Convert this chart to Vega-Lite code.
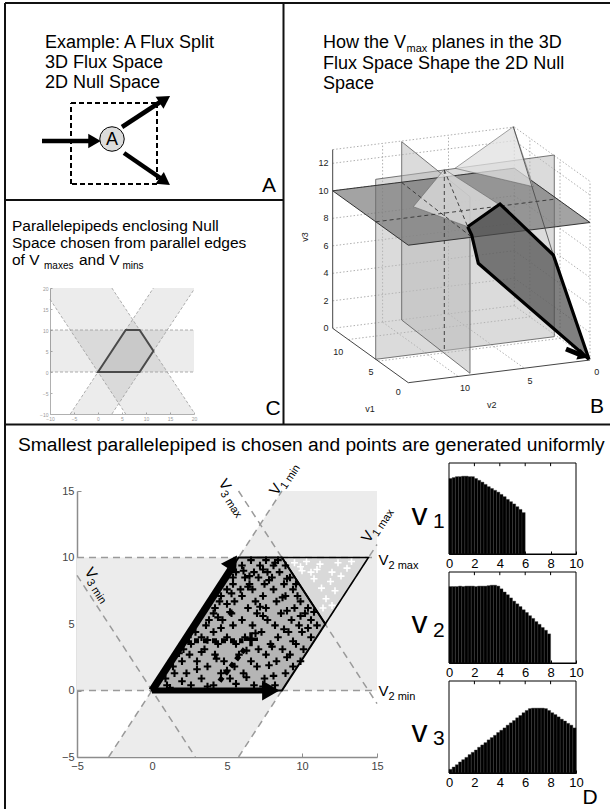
{
"$schema": "https://vega.github.io/schema/vega-lite/v6.json",
"width": 610, "height": 809,
"autosize": {"type": "none"},
"padding": 0,
"background": "white",
"config": {"view": {"stroke": null}, "text": {"font": "Liberation Sans"}, "axis": {"labelFont": "Liberation Sans", "labelFlush": false, "labelOverlap": false, "grid": false, "zindex": 1}},
"resolve": {"scale": {"x": "independent", "y": "independent"}},
"datasets": {
"pframe": [{"x":0,"y":0,"x2":605,"y2":0},{"x":0,"y":0,"x2":0,"y2":806},{"x":278.5,"y":0,"x2":278.5,"y2":421.5},{"x":0,"y":197,"x2":278.5,"y2":197},{"x":0,"y":421.5,"x2":605,"y2":421.5}],
"pt18": [{"x":40,"y":45,"t":"Example: A Flux Split"},{"x":40,"y":65,"t":"3D Flux Space"},{"x":40,"y":85,"t":"2D Null Space"},{"x":318,"y":45,"t":"How the V"},{"x":426.7,"y":45,"t":"planes in the 3D"},{"x":318,"y":66,"t":"Flux Space Shape the 2D Null"},{"x":318,"y":86,"t":"Space"}],
"pt11sub": [{"x":401.5,"y":49,"t":"max"}],
"pt16": [{"x":7,"y":227.5,"t":"Parallelepipeds enclosing Null"},{"x":7,"y":244.5,"t":"Space chosen from parallel edges"},{"x":7,"y":261.5,"t":"of V"},{"x":74,"y":261.5,"t":"and V"}],
"pt10sub": [{"x":39,"y":265.5,"t":"maxes"},{"x":117.5,"y":265.5,"t":"mins"}],
"pt19": [{"x":13,"y":448,"t":"Smallest parallelepiped is chosen and points are generated uniformly"}],
"pletters": [{"x":264,"y":189,"t":"A"},{"x":592,"y":410,"t":"B"},{"x":268,"y":412,"t":"C"},{"x":585,"y":801,"t":"D"}],
"phv": [{"x":406.5,"y":522,"t":"v"},{"x":406.5,"y":630,"t":"v"},{"x":406.5,"y":739,"t":"v"}],
"phsub": [{"x":428,"y":525,"t":"1"},{"x":428,"y":634,"t":"2"},{"x":428,"y":742,"t":"3"}],
"adash": [{"x":66,"y":100,"x2":152,"y2":100},{"x":152,"y":100,"x2":152,"y2":181},{"x":152,"y":181,"x2":66,"y2":181},{"x":66,"y":181,"x2":66,"y2":100}],
"ashaft": [{"x":37,"y":138,"x2":90,"y2":138},{"x":117,"y":124,"x2":159,"y2":96.5},{"x":119,"y":150,"x2":159,"y2":177.5}],
"ahead0": [{"x":89.5,"y":138}],
"ahead1": [{"x":159.8,"y":96.3}],
"ahead2": [{"x":159.8,"y":178.5}],
"acirc": [{"x":107,"y":136}],
"acirctext": [{"x":107,"y":142,"t":"A"}],
"bgrid": [
{"x":47.7,"y":328.3,"x2":229.3,"y2":305.7},{"x":229.3,"y":305.7,"x2":305,"y2":360},
{"x":47.7,"y":300.8,"x2":229.3,"y2":278.2},{"x":229.3,"y":278.2,"x2":305,"y2":332.5},
{"x":47.7,"y":273.3,"x2":229.3,"y2":250.7},{"x":229.3,"y":250.7,"x2":305,"y2":305},
{"x":47.7,"y":245.8,"x2":229.3,"y2":223.2},{"x":229.3,"y":223.2,"x2":305,"y2":277.5},
{"x":47.7,"y":218.3,"x2":229.3,"y2":195.7},{"x":229.3,"y":195.7,"x2":305,"y2":250},
{"x":47.7,"y":190.8,"x2":229.3,"y2":168.2},{"x":229.3,"y":168.2,"x2":305,"y2":222.5},
{"x":47.7,"y":163.3,"x2":229.3,"y2":140.7},{"x":229.3,"y":140.7,"x2":305,"y2":195},
{"x":47.7,"y":149.6,"x2":229.3,"y2":127},{"x":229.3,"y":127,"x2":305,"y2":181.3},
{"x":229.3,"y":305.7,"x2":229.3,"y2":127},{"x":305,"y":360,"x2":305,"y2":181.3},
{"x":97.6,"y":322.1,"x2":97.6,"y2":143.4},{"x":163.5,"y":313.9,"x2":163.5,"y2":135.2},
{"x":244.9,"y":316.9,"x2":244.9,"y2":138.2},{"x":275,"y":338.4,"x2":275,"y2":159.7},
{"x":97.6,"y":322.1,"x2":173.3,"y2":376.5},{"x":163.5,"y":313.9,"x2":239.2,"y2":368.2},
{"x":63.3,"y":339.5,"x2":244.9,"y2":316.9},{"x":93.3,"y":361.1,"x2":275,"y2":338.4}],
"baxes": [{"x":47.7,"y":328.3,"x2":47.7,"y2":149.6},{"x":47.7,"y":328.3,"x2":123.3,"y2":382.7},{"x":123.3,"y":382.7,"x2":305,"y2":360}],
"bv3lab": [{"x":43.5,"y":163.3,"t":"12"},{"x":43.5,"y":190.8,"t":"10"},{"x":43.5,"y":218.3,"t":"8"},{"x":43.5,"y":245.8,"t":"6"},{"x":43.5,"y":273.3,"t":"4"},{"x":43.5,"y":300.8,"t":"2"},{"x":43.5,"y":328.3,"t":"0"}],
"bv12lab": [{"x":53.3,"y":352,"t":"10"},{"x":86,"y":372,"t":"5"},{"x":113.3,"y":392,"t":"0"},{"x":180,"y":388.3,"t":"10"},{"x":245,"y":381,"t":"5"},{"x":311.7,"y":371.7,"t":"0"},{"x":85,"y":409,"t":"v1"},{"x":206.7,"y":405,"t":"v2"}],
"bv3title": [{"x":20,"y":237,"t":"v3"}],
"bpl_light": [
{"g":"p2","o":1,"x":90.7,"y":179.3},{"g":"p2","o":2,"x":269.3,"y":155},{"g":"p2","o":3,"x":269.3,"y":336.7},{"g":"p2","o":4,"x":90.7,"y":359.3},
{"g":"p3","o":1,"x":116.7,"y":141.7},{"g":"p3","o":2,"x":185,"y":196.7},{"g":"p3","o":3,"x":185,"y":373.3},{"g":"p3","o":4,"x":116.7,"y":320}],
"bpl_dark1": [{"g":"p1","o":1,"x":47.7,"y":190.8},{"g":"p1","o":2,"x":123.3,"y":245.2},{"g":"p1","o":3,"x":305,"y":222.5},{"g":"p1","o":4,"x":229.3,"y":168.2}],
"bpl_light2": [
{"g":"p6","o":1,"x":128.3,"y":206.7},{"g":"p6","o":2,"x":159.3,"y":169.3},{"g":"p6","o":3,"x":213.3,"y":204},{"g":"p6","o":4,"x":182.7,"y":226.7},
{"g":"p4","o":1,"x":170,"y":168.3},{"g":"p4","o":2,"x":228.3,"y":126.7},{"g":"p4","o":3,"x":248.3,"y":186.7}],
"bpl_dark2": [{"g":"p5","o":1,"x":182.7,"y":226.7},{"g":"p5","o":2,"x":215,"y":204},{"g":"p5","o":3,"x":268.3,"y":255},{"g":"p5","o":4,"x":304,"y":359.3},{"g":"p5","o":5,"x":193.3,"y":263.3}],
"bdash": [{"x":159.3,"y":170,"x2":159.3,"y2":350},{"x":90.7,"y":221.8,"x2":269.3,"y2":199.2},{"x":116.7,"y":182.5,"x2":185,"y2":235.8},{"x":159.3,"y":170,"x2":182.7,"y2":226.7}],
"bthin": [{"x":228.3,"y":126.7,"x2":268.3,"y2":255}],
"bthick": [
{"g":"a","o":1,"x":182.7,"y":226.7},{"g":"a","o":2,"x":215,"y":204},{"g":"a","o":3,"x":268.3,"y":255},{"g":"a","o":4,"x":304,"y":359.3},
{"g":"b","o":1,"x":182.7,"y":226.7},{"g":"b","o":2,"x":186.7,"y":235},{"g":"b","o":3,"x":193.3,"y":263.3},{"g":"b","o":4,"x":304,"y":359.3}],
"barrow": [{"x":281,"y":349,"x2":297,"y2":355.5}],
"bhead": [{"x":298,"y":356}],
"cbands": [
{"g":"v2","o":1,"x":-10,"y":0},{"g":"v2","o":2,"x":20,"y":0},{"g":"v2","o":3,"x":20,"y":10},{"g":"v2","o":4,"x":-10,"y":10},
{"g":"v1","o":1,"x":-5.77,"y":-10},{"g":"v1","o":2,"x":2.89,"y":-10},{"g":"v1","o":3,"x":20,"y":19.64},{"g":"v1","o":4,"x":20,"y":20},{"g":"v1","o":5,"x":11.55,"y":20},
{"g":"v3","o":1,"x":-10,"y":17.32},{"g":"v3","o":2,"x":-10,"y":20},{"g":"v3","o":3,"x":2.89,"y":20},{"g":"v3","o":4,"x":20,"y":-9.65},{"g":"v3","o":5,"x":20,"y":-10},{"g":"v3","o":6,"x":5.77,"y":-10}],
"cpent": [{"o":1,"x":0,"y":0},{"o":2,"x":5.77,"y":10},{"o":3,"x":8.66,"y":10},{"o":4,"x":11.55,"y":5},{"o":5,"x":8.66,"y":0}],
"cdash": [{"x":-10,"y":0,"x2":20,"y2":0},{"x":-10,"y":10,"x2":20,"y2":10},{"x":-5.77,"y":-10,"x2":11.55,"y2":20},{"x":2.89,"y":-10,"x2":20,"y2":19.64},{"x":-10,"y":17.32,"x2":5.77,"y2":-10},{"x":2.89,"y":20,"x2":20,"y2":-9.65}],
"dgray": [{"o":1,"x":-5,"y":0},{"o":2,"x":-5,"y":10},{"o":3,"x":5.77,"y":10},{"o":4,"x":8.66,"y":15},{"o":5,"x":15,"y":15},{"o":6,"x":15,"y":0},{"o":7,"x":8.66,"y":0},{"o":8,"x":5.77,"y":-5},{"o":9,"x":-2.89,"y":-5},{"o":10,"x":0,"y":0}],
"dpent": [{"o":1,"x":0,"y":0},{"o":2,"x":5.77,"y":10},{"o":3,"x":8.66,"y":10},{"o":4,"x":11.55,"y":5},{"o":5,"x":8.66,"y":0}],
"dtri": [{"o":1,"x":8.66,"y":10},{"o":2,"x":14.43,"y":10},{"o":3,"x":11.55,"y":5}],
"ddash": [{"x":-5,"y":10,"x2":15,"y2":10},{"x":-5,"y":0,"x2":15,"y2":0},{"x":-2.89,"y":-5,"x2":8.66,"y2":15},{"x":5.77,"y":-5,"x2":15,"y2":10.98},{"x":-5,"y":8.66,"x2":2.89,"y2":-5},{"x":5.77,"y":15,"x2":15,"y2":-0.99}],
"dpts": [
{"x":1.0,"y":0.4},{"x":2.6,"y":0.4},{"x":4.1,"y":0.4},{"x":6.8,"y":0.4},{"x":8.2,"y":0.4},
{"x":0.9,"y":0.9},{"x":3.3,"y":0.9},{"x":5.2,"y":0.9},{"x":7.5,"y":0.9},
{"x":1.5,"y":1.3},{"x":2.3,"y":1.3},{"x":4.6,"y":1.3},{"x":6.1,"y":1.3},{"x":8.9,"y":1.3},
{"x":1.4,"y":1.8},{"x":3.7,"y":1.8},{"x":5.5,"y":1.8},{"x":7.0,"y":1.8},{"x":9.4,"y":1.8},
{"x":2.0,"y":2.2},{"x":3.0,"y":2.2},{"x":4.8,"y":2.2},{"x":6.6,"y":2.2},{"x":8.3,"y":2.2},{"x":9.9,"y":2.2},
{"x":2.5,"y":2.7},{"x":4.2,"y":2.7},{"x":5.8,"y":2.7},{"x":7.6,"y":2.7},{"x":9.2,"y":2.7},
{"x":2.1,"y":3.1},{"x":3.5,"y":3.1},{"x":7.1,"y":3.1},{"x":8.7,"y":3.1},{"x":10.1,"y":3.1},
{"x":2.6,"y":3.5},{"x":4.4,"y":3.5},{"x":5.6,"y":3.5},{"x":7.9,"y":3.5},{"x":9.6,"y":3.5},
{"x":3.3,"y":4.0},{"x":5.0,"y":4.0},{"x":6.2,"y":4.0},{"x":8.4,"y":4.0},{"x":10.6,"y":4.0},
{"x":2.9,"y":4.4},{"x":4.1,"y":4.4},{"x":7.3,"y":4.4},{"x":9.1,"y":4.4},{"x":10.0,"y":4.4},
{"x":3.6,"y":4.9},{"x":5.4,"y":4.9},{"x":6.7,"y":4.9},{"x":8.2,"y":4.9},{"x":9.8,"y":4.9},{"x":11.0,"y":4.9},
{"x":3.8,"y":5.3},{"x":4.7,"y":5.3},{"x":6.0,"y":5.3},{"x":7.7,"y":5.3},{"x":9.3,"y":5.3},{"x":10.6,"y":5.3},
{"x":4.1,"y":5.8},{"x":5.3,"y":5.8},{"x":7.0,"y":5.8},{"x":8.6,"y":5.8},{"x":10.2,"y":5.8},
{"x":4.2,"y":6.2},{"x":6.4,"y":6.2},{"x":7.6,"y":6.2},{"x":9.5,"y":6.2},{"x":10.4,"y":6.2},
{"x":4.5,"y":6.7},{"x":5.5,"y":6.7},{"x":6.9,"y":6.7},{"x":8.3,"y":6.7},{"x":9.9,"y":6.7},
{"x":4.6,"y":7.1},{"x":6.0,"y":7.1},{"x":7.4,"y":7.1},{"x":8.9,"y":7.1},{"x":9.7,"y":7.1},
{"x":5.0,"y":7.6},{"x":5.9,"y":7.6},{"x":6.7,"y":7.6},{"x":8.1,"y":7.6},{"x":9.4,"y":7.6},
{"x":5.4,"y":8.0},{"x":6.5,"y":8.0},{"x":7.5,"y":8.0},{"x":8.8,"y":8.0},{"x":9.6,"y":8.0},
{"x":5.4,"y":8.5},{"x":6.2,"y":8.5},{"x":7.1,"y":8.5},{"x":8.0,"y":8.5},{"x":9.2,"y":8.5},
{"x":5.6,"y":8.9},{"x":6.8,"y":8.9},{"x":7.7,"y":8.9},{"x":8.5,"y":8.9},
{"x":6.0,"y":9.4},{"x":7.2,"y":9.4},{"x":8.1,"y":9.4},{"x":8.9,"y":9.4},
{"x":6.6,"y":9.8},{"x":7.6,"y":9.8},{"x":8.4,"y":9.8},
{"x":1.2,"y":0.2},{"x":3.7,"y":0.3},{"x":5.6,"y":0.5},{"x":7.4,"y":0.3},{"x":2.0,"y":0.7},{"x":6.3,"y":1.0},{"x":8.1,"y":1.1},{"x":3.0,"y":1.6},{"x":5.0,"y":1.5},{"x":7.8,"y":1.9},
{"x":4.3,"y":2.4},{"x":9.0,"y":2.5},{"x":3.3,"y":2.9},{"x":6.3,"y":3.0},{"x":8.0,"y":3.3},{"x":9.4,"y":3.7},{"x":3.7,"y":3.8},{"x":6.9,"y":4.3},{"x":8.8,"y":4.6},{"x":4.6,"y":4.7},
{"x":10.4,"y":4.7},{"x":5.2,"y":5.9},{"x":7.4,"y":5.6},{"x":9.0,"y":6.0},{"x":5.0,"y":6.5},{"x":7.2,"y":6.3},{"x":8.7,"y":7.0},{"x":5.3,"y":7.3},{"x":6.4,"y":7.8},{"x":7.8,"y":8.3},
{"x":6.1,"y":9.0},{"x":7.4,"y":9.1},{"x":8.2,"y":9.6},{"x":6.5,"y":8.6},{"x":9.0,"y":8.4},{"x":9.9,"y":5.6},{"x":10.8,"y":5.9},{"x":4.4,"y":5.5},{"x":2.4,"y":4.0},{"x":1.8,"y":2.8}],
"dwpts": [{"x":9.5,"y":9.6},{"x":10.3,"y":9.7},{"x":11.2,"y":9.5},{"x":12.4,"y":9.6},{"x":13.3,"y":9.7},{"x":10.0,"y":9.0},{"x":11.0,"y":9.1},{"x":12.0,"y":8.9},{"x":13.0,"y":9.2},{"x":10.8,"y":8.4},{"x":11.9,"y":8.2},{"x":12.6,"y":8.6},{"x":11.3,"y":7.7},{"x":12.2,"y":7.5},{"x":11.6,"y":6.9},{"x":12.0,"y":6.4},{"x":11.4,"y":6.2},{"x":10.6,"y":8.9},{"x":9.9,"y":9.3}],
"dshaft1": [{"x":0,"y":0,"x2":5.25,"y2":9.1}],
"dshaft2": [{"x":0,"y":0,"x2":7.6,"y2":0}],
"dhead1": [{"x":5.38,"y":9.66}],
"dhead2": [{"x":7.92,"y":0}],
"ddots": [{"x":2.2,"y":3.75,"x2":6.1,"y2":3.75},{"x":4.5,"y":0.7,"x2":6.3,"y2":3.3}],
"dcross": [{"x":6.6,"y":3.85}],
"dlab57": [{"x":-4.53,"y":8.95,"m":"V","s":"3 min"},{"x":4.4,"y":15.6,"m":"V","s":"3 max"}],
"dlabm57": [{"x":8.33,"y":14.6,"m":"V","s":"1 min"},{"x":14.47,"y":11.05,"m":"V","s":"1 max"}],
"dlab0": [{"x":15.1,"y":9.4,"m":"V","s":"2 max"},{"x":15.1,"y":-0.4,"m":"V","s":"2 min"}],
"hframe": [{"x":0,"x2":10,"y":0,"y2":1}],
"htick": [{"x":2,"y":1,"y2":0.965},{"x":4,"y":1,"y2":0.965},{"x":6,"y":1,"y2":0.965},{"x":8,"y":1,"y2":0.965}],
"h1": [{"x":0,"x2":0.25,"y":0.83},{"x":0.25,"x2":0.5,"y":0.84},{"x":0.5,"x2":0.75,"y":0.85},{"x":0.75,"x2":1,"y":0.85},{"x":1,"x2":1.25,"y":0.855},{"x":1.25,"x2":1.5,"y":0.855},{"x":1.5,"x2":1.75,"y":0.85},{"x":1.75,"x2":2,"y":0.85},{"x":2,"x2":2.25,"y":0.83},{"x":2.25,"x2":2.5,"y":0.81},{"x":2.5,"x2":2.75,"y":0.79},{"x":2.75,"x2":3,"y":0.765},{"x":3,"x2":3.25,"y":0.74},{"x":3.25,"x2":3.5,"y":0.72},{"x":3.5,"x2":3.75,"y":0.7},{"x":3.75,"x2":4,"y":0.68},{"x":4,"x2":4.25,"y":0.655},{"x":4.25,"x2":4.5,"y":0.63},{"x":4.5,"x2":4.75,"y":0.6},{"x":4.75,"x2":5,"y":0.575},{"x":5,"x2":5.25,"y":0.55},{"x":5.25,"x2":5.5,"y":0.52},{"x":5.5,"x2":5.75,"y":0.49},{"x":5.75,"x2":6,"y":0.455}],
"h2": [{"x":0,"x2":0.25,"y":0.84},{"x":0.25,"x2":0.5,"y":0.84},{"x":0.5,"x2":0.75,"y":0.84},{"x":0.75,"x2":1,"y":0.845},{"x":1,"x2":1.25,"y":0.84},{"x":1.25,"x2":1.5,"y":0.845},{"x":1.5,"x2":1.75,"y":0.845},{"x":1.75,"x2":2,"y":0.845},{"x":2,"x2":2.25,"y":0.84},{"x":2.25,"x2":2.5,"y":0.845},{"x":2.5,"x2":2.75,"y":0.845},{"x":2.75,"x2":3,"y":0.845},{"x":3,"x2":3.25,"y":0.85},{"x":3.25,"x2":3.5,"y":0.855},{"x":3.5,"x2":3.75,"y":0.855},{"x":3.75,"x2":4,"y":0.845},{"x":4,"x2":4.25,"y":0.815},{"x":4.25,"x2":4.5,"y":0.78},{"x":4.5,"x2":4.75,"y":0.75},{"x":4.75,"x2":5,"y":0.715},{"x":5,"x2":5.25,"y":0.68},{"x":5.25,"x2":5.5,"y":0.65},{"x":5.5,"x2":5.75,"y":0.62},{"x":5.75,"x2":6,"y":0.585},{"x":6,"x2":6.25,"y":0.555},{"x":6.25,"x2":6.5,"y":0.52},{"x":6.5,"x2":6.75,"y":0.49},{"x":6.75,"x2":7,"y":0.455},{"x":7,"x2":7.25,"y":0.425},{"x":7.25,"x2":7.5,"y":0.39},{"x":7.5,"x2":7.75,"y":0.36},{"x":7.75,"x2":8,"y":0.32}],
"h3": [{"x":0,"x2":0.25,"y":0.04},{"x":0.25,"x2":0.5,"y":0.065},{"x":0.5,"x2":0.75,"y":0.09},{"x":0.75,"x2":1,"y":0.12},{"x":1,"x2":1.25,"y":0.145},{"x":1.25,"x2":1.5,"y":0.17},{"x":1.5,"x2":1.75,"y":0.2},{"x":1.75,"x2":2,"y":0.225},{"x":2,"x2":2.25,"y":0.25},{"x":2.25,"x2":2.5,"y":0.28},{"x":2.5,"x2":2.75,"y":0.305},{"x":2.75,"x2":3,"y":0.33},{"x":3,"x2":3.25,"y":0.36},{"x":3.25,"x2":3.5,"y":0.385},{"x":3.5,"x2":3.75,"y":0.41},{"x":3.75,"x2":4,"y":0.44},{"x":4,"x2":4.25,"y":0.465},{"x":4.25,"x2":4.5,"y":0.49},{"x":4.5,"x2":4.75,"y":0.52},{"x":4.75,"x2":5,"y":0.545},{"x":5,"x2":5.25,"y":0.57},{"x":5.25,"x2":5.5,"y":0.6},{"x":5.5,"x2":5.75,"y":0.625},{"x":5.75,"x2":6,"y":0.655},{"x":6,"x2":6.25,"y":0.68},{"x":6.25,"x2":6.5,"y":0.7},{"x":6.5,"x2":6.75,"y":0.705},{"x":6.75,"x2":7,"y":0.705},{"x":7,"x2":7.25,"y":0.705},{"x":7.25,"x2":7.5,"y":0.705},{"x":7.5,"x2":7.75,"y":0.7},{"x":7.75,"x2":8,"y":0.68},{"x":8,"x2":8.25,"y":0.655},{"x":8.25,"x2":8.5,"y":0.635},{"x":8.5,"x2":8.75,"y":0.61},{"x":8.75,"x2":9,"y":0.585},{"x":9,"x2":9.25,"y":0.565},{"x":9.25,"x2":9.5,"y":0.54},{"x":9.5,"x2":9.75,"y":0.52},{"x":9.75,"x2":10,"y":0.49}]
},
"layer": [
{
"encoding": {
"x": {"field":"x","type":"quantitative","scale":{"domain":[0,605],"range":[5,610],"nice":false,"zero":false},"axis":null},
"y": {"field":"y","type":"quantitative","scale":{"domain":[0,806],"range":[3,809],"nice":false,"zero":false},"axis":null}
},
"layer": [
{"data":{"name":"pframe"},"mark":{"type":"rule","stroke":"#111111","strokeWidth":2},"encoding":{"x2":{"field":"x2"},"y2":{"field":"y2"}}},
{"data":{"name":"pt18"},"mark":{"type":"text","fontSize":18,"align":"left","baseline":"alphabetic","color":"black"},"encoding":{"text":{"field":"t"}}},
{"data":{"name":"pt11sub"},"mark":{"type":"text","fontSize":11,"align":"left","baseline":"alphabetic","color":"black"},"encoding":{"text":{"field":"t"}}},
{"data":{"name":"pt16"},"mark":{"type":"text","fontSize":15.5,"align":"left","baseline":"alphabetic","color":"black"},"encoding":{"text":{"field":"t"}}},
{"data":{"name":"pt10sub"},"mark":{"type":"text","fontSize":10,"align":"left","baseline":"alphabetic","color":"black"},"encoding":{"text":{"field":"t"}}},
{"data":{"name":"pt19"},"mark":{"type":"text","fontSize":19.2,"align":"left","baseline":"alphabetic","color":"black"},"encoding":{"text":{"field":"t"}}},
{"data":{"name":"pletters"},"mark":{"type":"text","fontSize":21,"align":"center","baseline":"alphabetic","color":"black"},"encoding":{"text":{"field":"t"}}},
{"data":{"name":"phv"},"mark":{"type":"text","fontSize":32,"align":"left","baseline":"alphabetic","color":"black"},"encoding":{"text":{"field":"t"}}},
{"data":{"name":"phsub"},"mark":{"type":"text","fontSize":21,"align":"left","baseline":"alphabetic","color":"black"},"encoding":{"text":{"field":"t"}}},
{"data":{"name":"adash"},"mark":{"type":"rule","stroke":"black","strokeWidth":2,"strokeDash":[5,3]},"encoding":{"x2":{"field":"x2"},"y2":{"field":"y2"}}},
{"data":{"name":"ashaft"},"mark":{"type":"rule","stroke":"black","strokeWidth":4.5},"encoding":{"x2":{"field":"x2"},"y2":{"field":"y2"}}},
{"data":{"name":"ahead0"},"mark":{"type":"point","shape":"triangle-right","size":210,"filled":true,"color":"black","opacity":1,"angle":0}},
{"data":{"name":"ahead1"},"mark":{"type":"point","shape":"triangle-right","size":210,"filled":true,"color":"black","opacity":1,"angle":327}},
{"data":{"name":"ahead2"},"mark":{"type":"point","shape":"triangle-right","size":210,"filled":true,"color":"black","opacity":1,"angle":35}},
{"data":{"name":"acirc"},"mark":{"type":"point","shape":"circle","size":600,"filled":true,"fill":"#dcdcdc","stroke":"black","strokeWidth":1,"opacity":1}},
{"data":{"name":"acirctext"},"mark":{"type":"text","fontSize":18,"align":"center","baseline":"alphabetic","color":"black"},"encoding":{"text":{"field":"t"}}}
]
},
{
"encoding": {
"x": {"field":"x","type":"quantitative","scale":{"domain":[0,325],"range":[285,610],"nice":false,"zero":false},"axis":null},
"y": {"field":"y","type":"quantitative","scale":{"domain":[0,430],"range":[0,430],"nice":false,"zero":false},"axis":null}
},
"layer": [
{"data":{"name":"bgrid"},"mark":{"type":"rule","stroke":"#9a9a9a","strokeWidth":0.8,"strokeDash":[1.5,2]},"encoding":{"x2":{"field":"x2"},"y2":{"field":"y2"}}},
{"data":{"name":"bpl_light"},"mark":{"type":"line","fill":"#b8b8b8","fillOpacity":0.5,"stroke":"#555555","strokeWidth":0.8,"interpolate":"linear-closed"},"encoding":{"detail":{"field":"g"},"order":{"field":"o","type":"quantitative"}}},
{"data":{"name":"bpl_dark1"},"mark":{"type":"line","fill":"#6a6a6a","fillOpacity":0.62,"stroke":"#333333","strokeWidth":1,"interpolate":"linear-closed"},"encoding":{"detail":{"field":"g"},"order":{"field":"o","type":"quantitative"}}},
{"data":{"name":"bpl_light2"},"mark":{"type":"line","fill":"#e0e0e0","fillOpacity":0.75,"stroke":"#666666","strokeWidth":0.6,"interpolate":"linear-closed"},"encoding":{"detail":{"field":"g"},"order":{"field":"o","type":"quantitative"}}},
{"data":{"name":"bpl_dark2"},"mark":{"type":"line","fill":"#4a4a4a","fillOpacity":0.7,"strokeOpacity":0,"interpolate":"linear-closed"},"encoding":{"detail":{"field":"g"},"order":{"field":"o","type":"quantitative"}}},
{"data":{"name":"bdash"},"mark":{"type":"rule","stroke":"#333333","strokeWidth":0.9,"strokeDash":[4,3]},"encoding":{"x2":{"field":"x2"},"y2":{"field":"y2"}}},
{"data":{"name":"bthin"},"mark":{"type":"rule","stroke":"#444444","strokeWidth":0.8},"encoding":{"x2":{"field":"x2"},"y2":{"field":"y2"}}},
{"data":{"name":"baxes"},"mark":{"type":"rule","stroke":"#444444","strokeWidth":1},"encoding":{"x2":{"field":"x2"},"y2":{"field":"y2"}}},
{"data":{"name":"bthick"},"mark":{"type":"line","stroke":"black","strokeWidth":3.2},"encoding":{"detail":{"field":"g"},"order":{"field":"o","type":"quantitative"}}},
{"data":{"name":"barrow"},"mark":{"type":"rule","stroke":"black","strokeWidth":5},"encoding":{"x2":{"field":"x2"},"y2":{"field":"y2"}}},
{"data":{"name":"bhead"},"mark":{"type":"point","shape":"triangle-right","size":130,"filled":true,"color":"black","opacity":1,"angle":22}},
{"data":{"name":"bv3lab"},"mark":{"type":"text","fontSize":9,"align":"right","baseline":"middle","color":"#222222"},"encoding":{"text":{"field":"t"}}},
{"data":{"name":"bv12lab"},"mark":{"type":"text","fontSize":9,"align":"center","baseline":"middle","color":"#222222"},"encoding":{"text":{"field":"t"}}},
{"data":{"name":"bv3title"},"mark":{"type":"text","fontSize":9,"align":"center","baseline":"middle","color":"#222222","angle":270},"encoding":{"text":{"field":"t"}}}
]
},
{
"encoding": {
"x": {"field":"x","type":"quantitative","scale":{"domain":[-10,20],"range":[50,194],"nice":false,"zero":false},"axis":{"orient":"bottom","offset":-395,"values":[-10,-5,0,5,10,15,20],"domainColor":"#b0b0b0","tickColor":"#b0b0b0","tickSize":-2,"labelPadding":4,"labelFontSize":5,"labelColor":"#999999","title":null,"labelFlush":false}},
"y": {"field":"y","type":"quantitative","scale":{"domain":[-10,20],"range":[414,288],"nice":false,"zero":false},"axis":{"orient":"left","offset":-50,"values":[-10,-5,0,5,10,15,20],"domainColor":"#b0b0b0","tickColor":"#b0b0b0","tickSize":-2,"labelPadding":4,"labelFontSize":5,"labelColor":"#999999","title":null}}
},
"layer": [
{"data":{"name":"cbands"},"mark":{"type":"line","fill":"black","fillOpacity":0.075,"strokeOpacity":0,"interpolate":"linear-closed"},"encoding":{"detail":{"field":"g"},"order":{"field":"o","type":"quantitative"}}},
{"data":{"name":"cdash"},"mark":{"type":"rule","stroke":"#9a9a9a","strokeWidth":0.8,"strokeDash":[3,2]},"encoding":{"x2":{"field":"x2"},"y2":{"field":"y2"}}},
{"data":{"name":"cpent"},"mark":{"type":"line","stroke":"#4a4a4a","strokeWidth":2,"interpolate":"linear-closed"},"encoding":{"order":{"field":"o","type":"quantitative"}}}
]
},
{
"encoding": {
"x": {"field":"x","type":"quantitative","scale":{"domain":[-5,15],"range":[77,377],"nice":false,"zero":false},"axis":{"orient":"bottom","offset":-52,"values":[-5,0,5,10,15],"domainColor":"#8c8c8c","domainWidth":1.5,"tickColor":"#8c8c8c","tickSize":-4,"labelPadding":7,"labelFontSize":11,"labelColor":"#444444","title":null,"labelFlush":false}},
"y": {"field":"y","type":"quantitative","scale":{"domain":[-5,15],"range":[757,491],"nice":false,"zero":false},"axis":{"orient":"left","offset":-77,"values":[-5,0,5,10,15],"domainColor":"#8c8c8c","domainWidth":1.5,"tickColor":"#8c8c8c","tickSize":-4,"labelPadding":7,"labelFontSize":11,"labelColor":"#444444","title":null}}
},
"layer": [
{"data":{"name":"dgray"},"mark":{"type":"line","fill":"#ececec","strokeOpacity":0,"interpolate":"linear-closed"},"encoding":{"order":{"field":"o","type":"quantitative"}}},
{"data":{"name":"dpent"},"mark":{"type":"line","fill":"#b5b5b5","strokeOpacity":0,"interpolate":"linear-closed"},"encoding":{"order":{"field":"o","type":"quantitative"}}},
{"data":{"name":"dtri"},"mark":{"type":"line","fill":"#d9d9d9","strokeOpacity":0,"interpolate":"linear-closed"},"encoding":{"order":{"field":"o","type":"quantitative"}}},
{"data":{"name":"ddash"},"mark":{"type":"rule","stroke":"#9a9a9a","strokeWidth":1.5,"strokeDash":[7,5]},"encoding":{"x2":{"field":"x2"},"y2":{"field":"y2"}}},
{"data":{"name":"dpts"},"mark":{"type":"point","shape":"M-1,0L1,0M0,-1L0,1","size":56,"filled":false,"stroke":"black","strokeWidth":2.1,"opacity":1}},
{"data":{"name":"dwpts"},"mark":{"type":"point","shape":"M-1,0L1,0M0,-1L0,1","size":49,"filled":false,"stroke":"white","strokeWidth":1.6,"opacity":1}},
{"data":{"name":"dpent"},"mark":{"type":"line","stroke":"black","strokeWidth":2,"interpolate":"linear-closed"},"encoding":{"order":{"field":"o","type":"quantitative"}}},
{"data":{"name":"dtri"},"mark":{"type":"line","stroke":"black","strokeWidth":1.5,"interpolate":"linear-closed"},"encoding":{"order":{"field":"o","type":"quantitative"}}},
{"data":{"name":"dshaft1"},"mark":{"type":"rule","stroke":"black","strokeWidth":7.5},"encoding":{"x2":{"field":"x2"},"y2":{"field":"y2"}}},
{"data":{"name":"dshaft2"},"mark":{"type":"rule","stroke":"black","strokeWidth":6},"encoding":{"x2":{"field":"x2"},"y2":{"field":"y2"}}},
{"data":{"name":"dhead1"},"mark":{"type":"point","shape":"triangle-right","size":324,"filled":true,"color":"black","opacity":1,"angle":303}},
{"data":{"name":"dhead2"},"mark":{"type":"point","shape":"triangle-right","size":400,"filled":true,"color":"black","opacity":1,"angle":0}},
{"data":{"name":"ddots"},"mark":{"type":"rule","stroke":"black","strokeWidth":5,"strokeDash":[5,4],"strokeCap":"butt"},"encoding":{"x2":{"field":"x2"},"y2":{"field":"y2"}}},
{"data":{"name":"dcross"},"mark":{"type":"point","shape":"M-1,0L1,0M0,-1L0,1","size":196,"filled":false,"stroke":"black","strokeWidth":3.5,"opacity":1}},
{"data":{"name":"dlab57"},"mark":{"type":"text","angle":57,"fontSize":15,"align":"left","baseline":"alphabetic","color":"black"},"encoding":{"text":{"field":"m"}}},
{"data":{"name":"dlab57"},"mark":{"type":"text","angle":57,"fontSize":11,"align":"left","baseline":"alphabetic","color":"black","dx":10,"dy":4},"encoding":{"text":{"field":"s"}}},
{"data":{"name":"dlabm57"},"mark":{"type":"text","angle":303,"fontSize":15,"align":"left","baseline":"alphabetic","color":"black"},"encoding":{"text":{"field":"m"}}},
{"data":{"name":"dlabm57"},"mark":{"type":"text","angle":303,"fontSize":11,"align":"left","baseline":"alphabetic","color":"black","dx":10,"dy":4},"encoding":{"text":{"field":"s"}}},
{"data":{"name":"dlab0"},"mark":{"type":"text","fontSize":15,"align":"left","baseline":"alphabetic","color":"black"},"encoding":{"text":{"field":"m"}}},
{"data":{"name":"dlab0"},"mark":{"type":"text","fontSize":11,"align":"left","baseline":"alphabetic","color":"black","dx":10,"dy":4},"encoding":{"text":{"field":"s"}}}
]
},
{
"encoding": {
"x": {"field":"x","type":"quantitative","scale":{"domain":[0,10],"range":[449,576],"nice":false,"zero":false},"axis":{"orient":"bottom","offset":-255,"values":[0,2,4,6,8,10],"domainColor":"black","tickColor":"black","tickSize":-3,"labelPadding":6,"labelFontSize":13,"labelColor":"black","title":null,"labelFlush":false}},
"y": {"field":"y","type":"quantitative","scale":{"domain":[0,1],"range":[554,463],"nice":false,"zero":false},"axis":null}
},
"layer": [
{"data":{"name":"h1"},"mark":{"type":"rect","color":"black","stroke":"#3a3a3a","strokeWidth":0.4},"encoding":{"x2":{"field":"x2"},"y2":{"datum":0}}},
{"data":{"name":"hframe"},"mark":{"type":"rect","filled":false,"stroke":"black","strokeWidth":1},"encoding":{"x2":{"field":"x2"},"y2":{"field":"y2"}}},
{"data":{"name":"htick"},"mark":{"type":"rule","stroke":"black","strokeWidth":1},"encoding":{"y2":{"field":"y2"}}}
]
},
{
"encoding": {
"x": {"field":"x","type":"quantitative","scale":{"domain":[0,10],"range":[449,576],"nice":false,"zero":false},"axis":{"orient":"bottom","offset":-146,"values":[0,2,4,6,8,10],"domainColor":"black","tickColor":"black","tickSize":-3,"labelPadding":6,"labelFontSize":13,"labelColor":"black","title":null,"labelFlush":false}},
"y": {"field":"y","type":"quantitative","scale":{"domain":[0,1],"range":[663,572],"nice":false,"zero":false},"axis":null}
},
"layer": [
{"data":{"name":"h2"},"mark":{"type":"rect","color":"black","stroke":"#3a3a3a","strokeWidth":0.4},"encoding":{"x2":{"field":"x2"},"y2":{"datum":0}}},
{"data":{"name":"hframe"},"mark":{"type":"rect","filled":false,"stroke":"black","strokeWidth":1},"encoding":{"x2":{"field":"x2"},"y2":{"field":"y2"}}},
{"data":{"name":"htick"},"mark":{"type":"rule","stroke":"black","strokeWidth":1},"encoding":{"y2":{"field":"y2"}}}
]
},
{
"encoding": {
"x": {"field":"x","type":"quantitative","scale":{"domain":[0,10],"range":[449,576],"nice":false,"zero":false},"axis":{"orient":"bottom","offset":-36,"values":[0,2,4,6,8,10],"domainColor":"black","tickColor":"black","tickSize":-3,"labelPadding":6,"labelFontSize":13,"labelColor":"black","title":null,"labelFlush":false}},
"y": {"field":"y","type":"quantitative","scale":{"domain":[0,1],"range":[773,681],"nice":false,"zero":false},"axis":null}
},
"layer": [
{"data":{"name":"h3"},"mark":{"type":"rect","color":"black","stroke":"#3a3a3a","strokeWidth":0.4},"encoding":{"x2":{"field":"x2"},"y2":{"datum":0}}},
{"data":{"name":"hframe"},"mark":{"type":"rect","filled":false,"stroke":"black","strokeWidth":1},"encoding":{"x2":{"field":"x2"},"y2":{"field":"y2"}}},
{"data":{"name":"htick"},"mark":{"type":"rule","stroke":"black","strokeWidth":1},"encoding":{"y2":{"field":"y2"}}}
]
}
]
}
